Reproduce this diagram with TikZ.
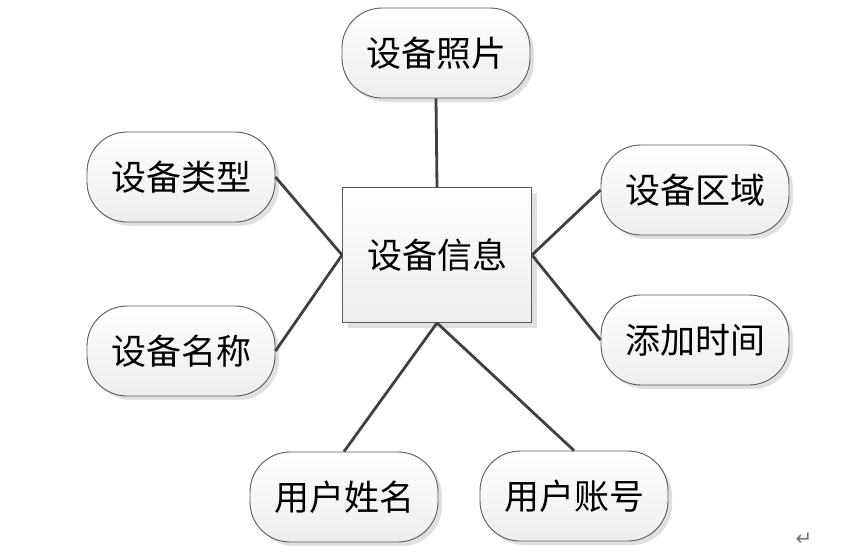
\documentclass[tikz,border=0pt]{standalone}
\usepackage{fontspec}
\newfontfamily\cjk{Noto Sans CJK SC}
\newfontfamily\dejavu{DejaVu Sans}
\usetikzlibrary{shadows}
\definecolor{edgecol}{HTML}{404040}
\definecolor{bordercol}{HTML}{5A5A5A}
\tikzset{
  attr/.style={draw=bordercol, line width=0.9pt, rounded corners=40pt,
    minimum width=188pt, minimum height=90pt, inner sep=0pt,
    top color=white, bottom color=black!7,
    drop shadow={shadow xshift=4pt, shadow yshift=-4pt, fill=black!12, opacity=1},
    font=\cjk\fontsize{35}{38}\selectfont},
  entity/.style={draw=bordercol, line width=0.9pt,
    minimum width=189pt, minimum height=135pt, inner sep=0pt,
    top color=white, bottom color=black!7,
    drop shadow={shadow xshift=5pt, shadow yshift=-5pt, fill=black!12, opacity=1},
    font=\cjk\fontsize{35}{38}\selectfont},
  link/.style={draw=edgecol, line width=2.8pt}
}
\begin{document}
\begin{tikzpicture}[x=1pt,y=-1pt]
\useasboundingbox (0,0) rectangle (844,552);
\node[entity] (e) at (437,255) {设备信息};
\node[attr] (photo) at (436,53) {设备照片};
\node[attr] (type) at (181,177) {设备类型};
\node[attr] (area) at (695,190) {设备区域};
\node[attr] (name) at (181,351) {设备名称};
\node[attr] (time) at (695,340) {添加时间};
\node[attr] (uname) at (344,497) {用户姓名};
\node[attr] (uacc) at (574,496) {用户账号};
\draw[link] (e.north) -- (photo.south);
\draw[link] (e.west) -- (type.east);
\draw[link] (e.west) -- (name.east);
\draw[link] (e.east) -- (area.west);
\draw[link] (e.east) -- (time.west);
\draw[link] (e.south) -- (uname.north);
\draw[link] (e.south) -- (uacc.north);
\node[text=black!55, font=\dejavu\fontsize{20}{20}\selectfont] (ret) at (804,539) {↵};
\end{tikzpicture}
\end{document}
